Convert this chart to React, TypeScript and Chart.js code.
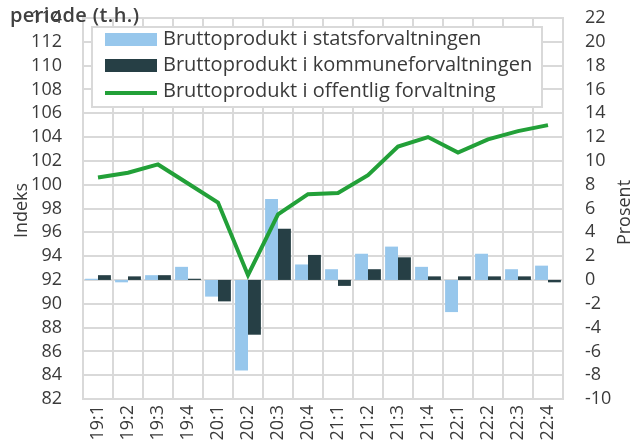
import React, { useEffect, useRef } from "react";
import { Chart, registerables } from "chart.js";

Chart.register(...registerables);

const categories = ["19:1", "19:2", "19:3", "19:4", "20:1", "20:2", "20:3", "20:4", "21:1", "21:2", "21:3", "21:4", "22:1", "22:2", "22:3", "22:4"];
const statsValues = [0.1, -0.2, 0.4, 1.1, -1.4, -7.6, 6.8, 1.3, 0.9, 2.2, 2.8, 1.1, -2.7, 2.2, 0.9, 1.2];
const kommuneValues = [0.4, 0.3, 0.4, 0.1, -1.8, -4.6, 4.3, 2.1, -0.5, 0.9, 1.9, 0.3, 0.3, 0.3, 0.3, -0.2];
const offentligIndex = [100.6, 101.0, 101.7, 100.1, 98.5, 92.4, 97.5, 99.2, 99.3, 100.8, 103.2, 104.0, 102.7, 103.8, 104.5, 105.0];
const seriesLabels = [
  "Bruttoprodukt i statsforvaltningen",
  "Bruttoprodukt i kommuneforvaltningen",
  "Bruttoprodukt i offentlig forvaltning",
];
const titleText = "periode (t.h.)";
const leftAxisTitle = "Indeks";
const rightAxisTitle = "Prosent";

const FONT = '"Open Sans", "DejaVu Sans", sans-serif';
const TEXT = "#3a3a3a";
const GRID = "#d9d9d9";
const BLUE = "#97c7ec";
const DARK = "#263f45";
const GREEN = "#22a038";

const overlayPlugin = {
  id: "overlay",
  afterDraw(chart: any) {
    const ctx = chart.ctx as any;
    const area = chart.chartArea;
    ctx.save();
    // legend box
    const lx = 92, ly = 27, lw = 450, lh = 80;
    ctx.fillStyle = "#ffffff";
    ctx.fillRect(lx, ly, lw, lh);
    ctx.strokeStyle = GRID;
    ctx.lineWidth = 2;
    ctx.strokeRect(lx, ly, lw, lh);
    const rows = [39.5, 65.5, 91];
    const dsets = chart.data.datasets;
    const order = [1, 2, 0];
    ctx.font = `20px ${FONT}`;
    ctx.textBaseline = "middle";
    ctx.textAlign = "left";
    order.forEach((di, i) => {
      const ds = dsets[di];
      const cy = rows[i];
      if (ds.type === "line") {
        ctx.strokeStyle = ds.borderColor;
        ctx.lineWidth = 4;
        ctx.beginPath();
        ctx.moveTo(105, cy + 2);
        ctx.lineTo(157, cy + 2);
        ctx.stroke();
      } else {
        ctx.fillStyle = ds.backgroundColor;
        ctx.fillRect(105, cy - 6.5, 52, 13);
      }
      ctx.fillStyle = TEXT;
      ctx.fillText(ds.label, 163, cy);
    });
    // axis titles
    const midY = (area.top + area.bottom) / 2;
    ctx.font = `18px ${FONT}`;
    ctx.textAlign = "center";
    ctx.textBaseline = "middle";
    ctx.fillStyle = TEXT;
    ctx.save();
    ctx.translate(22, midY + 2);
    ctx.rotate(-Math.PI / 2);
    ctx.fillText(leftAxisTitle, 0, 0);
    ctx.restore();
    ctx.save();
    ctx.translate(625, midY + 4);
    ctx.rotate(-Math.PI / 2);
    ctx.fillText(rightAxisTitle, 0, 0);
    ctx.restore();
    // title
    ctx.font = `600 20px ${FONT}`;
    ctx.letterSpacing = "0.4px";
    ctx.textAlign = "left";
    ctx.textBaseline = "alphabetic";
    ctx.fillStyle = "#404040";
    ctx.fillText(titleText, 10, 22);
    ctx.letterSpacing = "0px";
    ctx.restore();
  },
};

export default function App() {
  const ref = useRef<HTMLCanvasElement>(null);
  useEffect(() => {
    const tickFont = { family: FONT, size: 18 };
    const chart = new Chart(ref.current as HTMLCanvasElement, {
      data: {
        labels: categories,
        datasets: [
          {
            type: "line",
            label: seriesLabels[2],
            data: offentligIndex,
            yAxisID: "y",
            borderColor: GREEN,
            backgroundColor: GREEN,
            borderWidth: 4,
            pointRadius: 0,
            tension: 0,
            order: 0,
          },
          {
            type: "bar",
            label: seriesLabels[0],
            data: statsValues,
            yAxisID: "y1",
            backgroundColor: BLUE,
            categoryPercentage: 0.86,
            barPercentage: 1,
            order: 1,
          },
          {
            type: "bar",
            label: seriesLabels[1],
            data: kommuneValues,
            yAxisID: "y1",
            backgroundColor: DARK,
            categoryPercentage: 0.86,
            barPercentage: 1,
            order: 1,
          },
        ],
      } as any,
      options: {
        animation: false,
        responsive: false,
        events: [],
        layout: { padding: { top: 18, left: 0, right: 0, bottom: 0 } },
        plugins: { legend: { display: false }, tooltip: { enabled: false }, title: { display: false } },
        scales: {
          x: {
            type: "category",
            offset: true,
            grid: { offset: true, color: GRID, lineWidth: 2, drawTicks: false },
            border: { color: GRID, width: 2 },
            ticks: { minRotation: 90, maxRotation: 90, padding: 6, autoSkip: false, font: tickFont, color: TEXT },
            afterFit: (s: any) => { s.height = 45; s.paddingLeft = 0; s.paddingRight = 0; },
          },
          y: {
            position: "left",
            min: 82,
            max: 114,
            ticks: { stepSize: 2, padding: 21, autoSkip: false, font: tickFont, color: TEXT },
            grid: { color: GRID, lineWidth: 2, drawTicks: false },
            border: { color: GRID, width: 2 },
            afterFit: (s: any) => { s.width = 83; s.paddingTop = 0; s.paddingBottom = 0; },
          },
          y1: {
            position: "right",
            min: -10,
            max: 22,
            ticks: { stepSize: 2, padding: 22, autoSkip: false, font: tickFont, color: TEXT },
            grid: { display: false, drawTicks: false },
            border: { color: GRID, width: 2 },
            afterFit: (s: any) => { s.width = 72; s.paddingTop = 0; s.paddingBottom = 0; },
          },
        },
      } as any,
      plugins: [overlayPlugin],
    });
    return () => chart.destroy();
  }, []);
  return (
    <div style={{ position: "fixed", left: 0, top: 0, width: 635, height: 444, background: "#fff" }}>
      <canvas ref={ref} width={635} height={444} style={{ display: "block" }} />
    </div>
  );
}
